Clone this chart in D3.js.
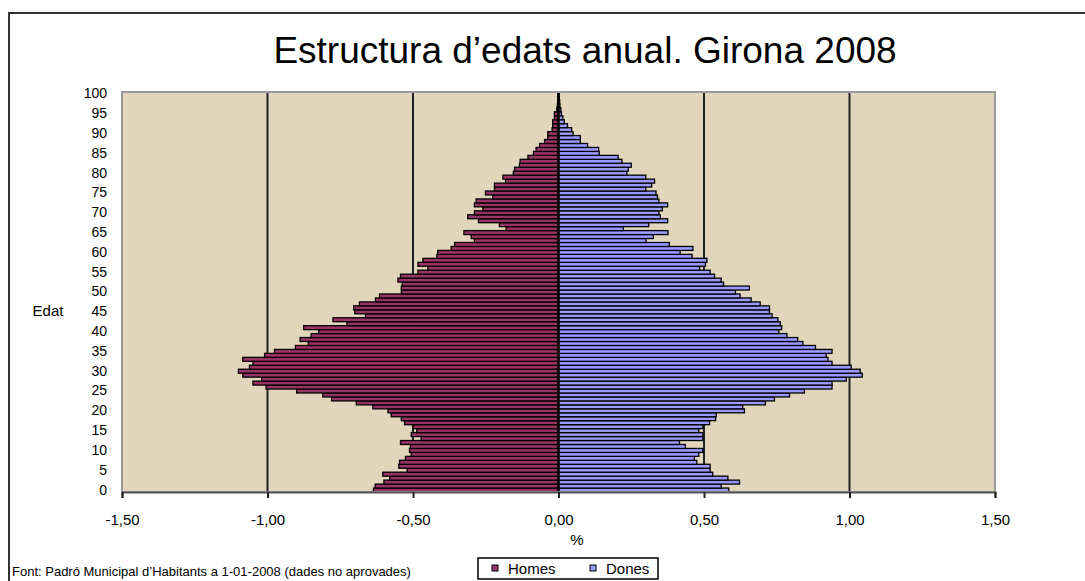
<!DOCTYPE html>
<html>
<head>
<meta charset="utf-8">
<script src="https://cdn.jsdelivr.net/npm/d3@7"></script>
<style>
  body { margin: 0; background: #fff; }
  svg { display: block; font-family: "Liberation Sans", Arial, sans-serif; }
</style>
</head>
<body>
<svg width="1085" height="581"></svg>
<script>
// ages 0..100
var ages = d3.range(0, 101);

// % of population, men (negative = left side)
var homes = [
  -0.636, -0.630, -0.600, -0.580, -0.604, -0.520, -0.549, -0.546, -0.526, -0.506,
  -0.512, -0.509, -0.543, -0.472, -0.506, -0.487, -0.500, -0.529, -0.540, -0.575,
  -0.586, -0.638, -0.695, -0.780, -0.810, -0.900, -1.005, -1.050, -1.020, -1.085,
  -1.100, -1.062, -1.050, -1.085, -1.010, -0.976, -0.904, -0.860, -0.888, -0.850,
  -0.824, -0.876, -0.727, -0.775, -0.663, -0.700, -0.704, -0.684, -0.629, -0.615,
  -0.540, -0.540, -0.537, -0.552, -0.543, -0.483, -0.449, -0.483, -0.466, -0.418,
  -0.415, -0.369, -0.357, -0.289, -0.300, -0.325, -0.180, -0.203, -0.275, -0.312,
  -0.289, -0.260, -0.289, -0.283, -0.226, -0.251, -0.220, -0.220, -0.182, -0.191,
  -0.155, -0.151, -0.134, -0.132, -0.105, -0.086, -0.077, -0.065, -0.048, -0.037,
  -0.037, -0.022, -0.020, -0.020, -0.014, -0.014, -0.006, -0.004, -0.003, -0.002,
  -0.002
];

// % of population, women
var dones = [
  0.585, 0.559, 0.622, 0.582, 0.530, 0.521, 0.521, 0.475, 0.467, 0.482,
  0.496, 0.436, 0.416, 0.496, 0.496, 0.482, 0.496, 0.519, 0.540, 0.542,
  0.639, 0.633, 0.711, 0.742, 0.794, 0.845, 0.940, 0.940, 0.989, 1.044,
  1.037, 1.006, 0.940, 0.926, 0.920, 0.940, 0.883, 0.840, 0.822, 0.785,
  0.757, 0.767, 0.762, 0.754, 0.734, 0.725, 0.725, 0.693, 0.662, 0.624,
  0.608, 0.656, 0.567, 0.559, 0.536, 0.521, 0.485, 0.505, 0.510, 0.459,
  0.418, 0.462, 0.381, 0.301, 0.326, 0.376, 0.223, 0.310, 0.375, 0.350,
  0.345, 0.357, 0.375, 0.345, 0.340, 0.335, 0.300, 0.320, 0.330, 0.300,
  0.235, 0.240, 0.250, 0.218, 0.205, 0.140, 0.138, 0.100, 0.075, 0.075,
  0.050, 0.045, 0.031, 0.020, 0.015, 0.010, 0.008, 0.005, 0.004, 0.003,
  0.002
];

var xTicks = [-1.5, -1, -0.5, 0, 0.5, 1, 1.5];
var seriesNames = ["Homes", "Dones"];
var colors = ["#993366", "#9999ff"];

var svg = d3.select("svg"),
    plot = { left: 122, right: 995, top: 92, bottom: 492 };

var locale = d3.formatLocale({ decimal: ",", thousands: ".", grouping: [3], currency: ["", "€"], minus: "-" });
var fmt = locale.format(".2f");

var x = d3.scaleLinear()
    .domain([-1.5, 1.5])
    .range([plot.left, plot.right]);

var y = d3.scaleBand()
    .domain(ages.slice().reverse())
    .range([plot.top, plot.bottom])
    .padding(0);

// outer frame (runs off the right and bottom edges)
svg.append("rect")
    .attr("x", 9).attr("y", 13)
    .attr("width", 1200).attr("height", 700)
    .attr("fill", "none")
    .attr("stroke", "#333")
    .attr("stroke-width", 2);

// title
svg.append("text")
    .attr("x", 585).attr("y", 63)
    .attr("text-anchor", "middle")
    .style("font-size", "37px")
    .text("Estructura d’edats anual. Girona 2008");

// plot background
svg.append("rect")
    .attr("x", plot.left).attr("y", plot.top)
    .attr("width", plot.right - plot.left)
    .attr("height", plot.bottom - plot.top)
    .attr("fill", "#e1d6bb");

// vertical gridlines
svg.append("g")
    .selectAll("line")
    .data(xTicks.filter(function (d) { return Math.abs(d) != 1.5 && d != 0; }))
    .enter().append("line")
    .attr("x1", function (d) { return x(d); })
    .attr("x2", function (d) { return x(d); })
    .attr("y1", plot.top).attr("y2", plot.bottom)
    .attr("stroke", "#222")
    .attr("stroke-width", 2);

// bars
var bars = svg.append("g");
[homes, dones].forEach(function (vals, i) {
    bars.append("g")
        .selectAll("rect")
        .data(ages)
        .enter().append("rect")
        .attr("x", function (a) { return x(Math.min(0, vals[a])); })
        .attr("width", function (a) { return Math.abs(x(vals[a]) - x(0)); })
        .attr("y", function (a) { return y(a); })
        .attr("height", y.bandwidth())
        .attr("fill", colors[i])
        .attr("stroke", "#000")
        .attr("stroke-width", 1.3);
});

// zero line
svg.append("line")
    .attr("x1", x(0)).attr("x2", x(0))
    .attr("y1", plot.top).attr("y2", plot.bottom)
    .attr("stroke", "#000")
    .attr("stroke-width", 2.5);

// plot border
svg.append("rect")
    .attr("x", plot.left).attr("y", plot.top)
    .attr("width", plot.right - plot.left)
    .attr("height", plot.bottom - plot.top)
    .attr("fill", "none")
    .attr("stroke", "#9a9a9a")
    .attr("stroke-width", 2);

// x axis
var xAxis = svg.append("g")
    .attr("transform", "translate(0," + plot.bottom + ")")
    .call(d3.axisBottom(x).tickValues(xTicks).tickFormat(fmt).tickSize(6).tickPadding(16));
xAxis.select(".domain").attr("stroke", "#555").attr("stroke-width", 2);
xAxis.selectAll(".tick line").attr("stroke", "#222").attr("stroke-width", 2);
xAxis.selectAll("text")
    .style("font-size", "15px")
    .attr("fill", "#000");

// y axis
var yAxis = svg.append("g")
    .attr("transform", "translate(" + (plot.left - 15) + ",0)")
    .call(d3.axisLeft(y).tickValues(ages.filter(function (d) { return d % 5 == 0; })).tickSize(0).tickPadding(0));
yAxis.select(".domain").remove();
yAxis.selectAll("text")
    .style("font-size", "14px")
    .attr("fill", "#000");

// axis titles
svg.append("text")
    .attr("x", 48).attr("y", 316)
    .attr("text-anchor", "middle")
    .style("font-size", "15px")
    .text("Edat");

svg.append("text")
    .attr("x", 577).attr("y", 545)
    .attr("text-anchor", "middle")
    .style("font-size", "15px")
    .text("%");

// legend
var legend = svg.append("g").attr("transform", "translate(478,558)");
legend.append("rect")
    .attr("width", 180).attr("height", 21)
    .attr("fill", "#fff")
    .attr("stroke", "#000")
    .attr("stroke-width", 1.5);
var items = legend.selectAll("g.item")
    .data(seriesNames)
    .enter().append("g")
    .attr("class", "item")
    .attr("transform", function (d, i) { return "translate(" + (14 + i * 98) + ",0)"; });
items.append("rect")
    .attr("x", 0).attr("y", 7)
    .attr("width", 6).attr("height", 6)
    .attr("fill", function (d, i) { return colors[i]; })
    .attr("stroke", "#000")
    .attr("stroke-width", 1);
items.append("text")
    .attr("x", 16).attr("y", 16)
    .style("font-size", "15px")
    .text(function (d) { return d; });

// source note
svg.append("text")
    .attr("x", 12).attr("y", 576)
    .style("font-size", "13px")
    .text("Font: Padró Municipal d’Habitants a 1-01-2008 (dades no aprovades)");
</script>
</body>
</html>
